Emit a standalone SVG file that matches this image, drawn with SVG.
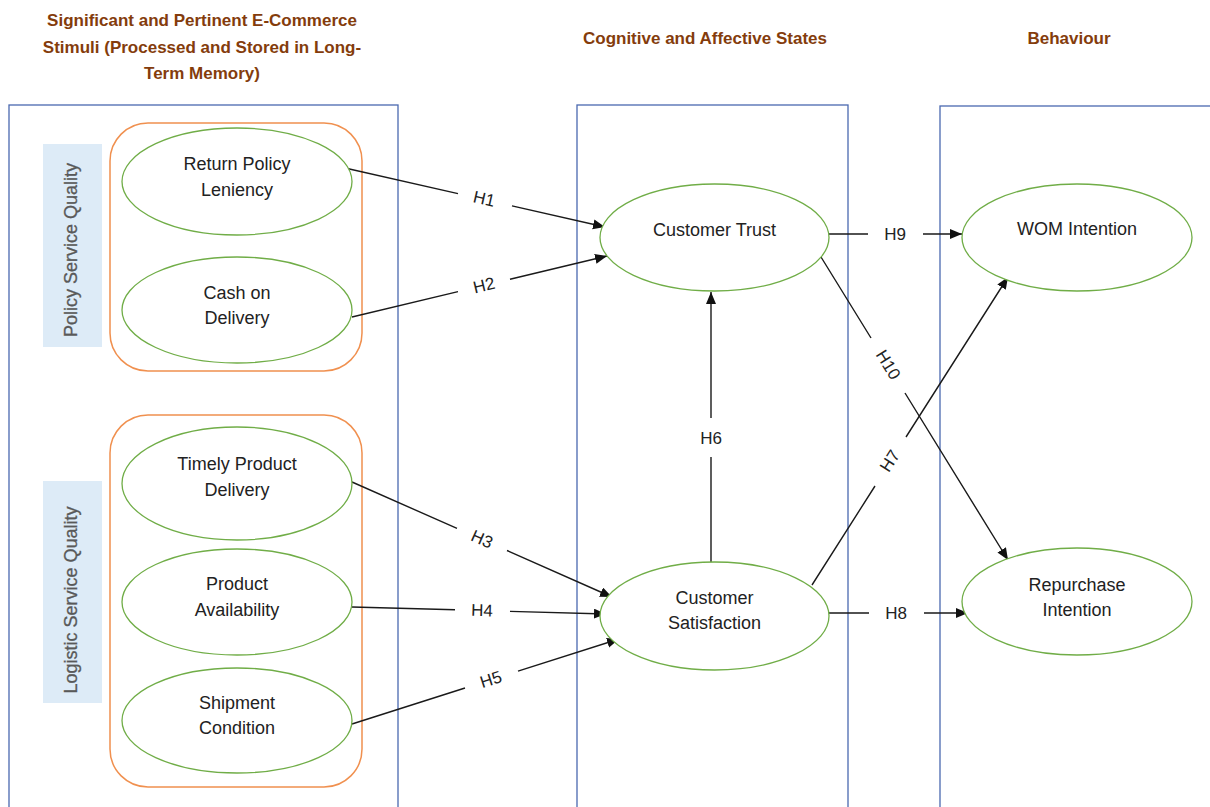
<svg xmlns="http://www.w3.org/2000/svg" width="1210" height="807" viewBox="0 0 1210 807">
<style>
.hdr{font-family:"Liberation Sans",Arial,sans-serif;font-size:17px;font-weight:bold;fill:#843C0C;text-anchor:middle}
.box{fill:none;stroke:#4A69B0;stroke-width:1.3}
.grp{fill:none;stroke:#F0904F;stroke-width:1.5}
.lbg{fill:#DDEBF7;stroke:none}
.ltx{font-family:"Liberation Sans",Arial,sans-serif;font-size:18px;fill:#595959;text-anchor:middle;dominant-baseline:central;stroke:#595959;stroke-width:0.3}
.ell{fill:#fff;stroke:#70AD47;stroke-width:1.3}
.ntx{font-family:"Liberation Sans",Arial,sans-serif;font-size:18px;fill:#222;text-anchor:middle}
.con{fill:none;stroke:#1a1a1a;stroke-width:1.4}
.htx{font-family:"Liberation Sans",Arial,sans-serif;font-size:17px;fill:#222;text-anchor:middle;dominant-baseline:central}
</style>
<defs>
<marker id="arr" markerUnits="userSpaceOnUse" markerWidth="13" markerHeight="11" refX="12" refY="5" orient="auto">
<path d="M0,0 L12,5 L0,10 z" fill="#111"/>
</marker>
</defs>
<rect width="1210" height="807" fill="#fff"/>

<g id="headers">
<text class="hdr" x="202" y="26">Significant and Pertinent E-Commerce</text>
<text class="hdr" x="202" y="52.5">Stimuli (Processed and Stored in Long-</text>
<text class="hdr" x="202" y="79">Term Memory)</text>
<text class="hdr" x="705" y="44">Cognitive and Affective States</text>
<text class="hdr" x="1069" y="44">Behaviour</text>
</g>

<g id="columns">
<rect class="box" x="9" y="105" width="389" height="720"/>
<rect class="box" x="577" y="105" width="271" height="720"/>
<rect class="box" x="940" y="106" width="300" height="720"/>
</g>

<g id="policy-group">
<rect class="grp" x="110" y="123" width="252" height="248" rx="38"/>
<rect class="lbg" x="43" y="144" width="59" height="203"/>
<text class="ltx" transform="rotate(-90 71 250)" x="71" y="250">Policy Service Quality</text>
</g>

<g id="logistic-group">
<rect class="grp" x="110" y="415" width="252" height="372" rx="38"/>
<rect class="lbg" x="43" y="481" width="59" height="222"/>
<text class="ltx" transform="rotate(-90 71 600)" x="71" y="600">Logistic Service Quality</text>
</g>

<g id="connectors">
<path class="con" d="M345,168 L458,193.6 M512,205.9 L605,227" marker-end="url(#arr)"/>
<text class="htx" transform="rotate(12.8 484 199)" x="484" y="199">H1</text>
<path class="con" d="M352,317 L458,291.6 M510,279.2 L607,256" marker-end="url(#arr)"/>
<text class="htx" transform="rotate(-13.5 484 285.5)" x="484" y="285.5">H2</text>
<path class="con" d="M352,482 L457,528.4 M507,550.5 L612,597" marker-end="url(#arr)"/>
<text class="htx" transform="rotate(23.9 482 539.5)" x="482" y="539.5">H3</text>
<path class="con" d="M352,607 L455,609.8 M510,611.4 L606,614" marker-end="url(#arr)"/>
<text class="htx" transform="rotate(1.6 482 610.6)" x="482" y="610.6">H4</text>
<path class="con" d="M352,724 L465,688 M518,671.2 L619,639" marker-end="url(#arr)"/>
<text class="htx" transform="rotate(-17.7 491 679.6)" x="491" y="679.6">H5</text>
<path class="con" d="M711,562 L711,457 M711,418 L711,292" marker-end="url(#arr)"/>
<text class="htx" x="711" y="438">H6</text>
<path class="con" d="M812,585 L875,486 M906,437 L1008,277" marker-end="url(#arr)"/>
<text class="htx" transform="rotate(-57.5 890 461)" x="890" y="461">H7</text>
<path class="con" d="M829,613 L869,613 M924,613 L968,613" marker-end="url(#arr)"/>
<text class="htx" x="896" y="613">H8</text>
<path class="con" d="M829,234 L868,234 M923,234 L962,234" marker-end="url(#arr)"/>
<text class="htx" x="895" y="234">H9</text>
<path class="con" d="M821,257 L871,338 M905,393 L1008,560" marker-end="url(#arr)"/>
<text class="htx" transform="rotate(58.3 888 365)" x="888" y="365">H10</text>
</g>

<g id="return-policy">
<ellipse class="ell" cx="237" cy="181.5" rx="115" ry="53.5"/>
<text class="ntx" x="237" y="170">Return Policy</text>
<text class="ntx" x="237" y="196">Leniency</text>
</g>
<g id="cash-on-delivery">
<ellipse class="ell" cx="237" cy="310" rx="115" ry="53"/>
<text class="ntx" x="237" y="299">Cash on</text>
<text class="ntx" x="237" y="324">Delivery</text>
</g>
<g id="timely-delivery">
<ellipse class="ell" cx="237" cy="483.5" rx="115" ry="56.5"/>
<text class="ntx" x="237" y="470">Timely Product</text>
<text class="ntx" x="237" y="496">Delivery</text>
</g>
<g id="product-availability">
<ellipse class="ell" cx="237" cy="602" rx="115" ry="53"/>
<text class="ntx" x="237" y="590">Product</text>
<text class="ntx" x="237" y="616">Availability</text>
</g>
<g id="shipment-condition">
<ellipse class="ell" cx="237" cy="720.5" rx="115" ry="52.5"/>
<text class="ntx" x="237" y="709">Shipment</text>
<text class="ntx" x="237" y="734">Condition</text>
</g>
<g id="customer-trust">
<ellipse class="ell" cx="714.5" cy="237.5" rx="114.5" ry="53.5"/>
<text class="ntx" x="714.5" y="236">Customer Trust</text>
</g>
<g id="customer-satisfaction">
<ellipse class="ell" cx="714.5" cy="616" rx="114.5" ry="54"/>
<text class="ntx" x="714.5" y="604">Customer</text>
<text class="ntx" x="714.5" y="629">Satisfaction</text>
</g>
<g id="wom-intention">
<ellipse class="ell" cx="1077" cy="237.5" rx="115" ry="53.5"/>
<text class="ntx" x="1077" y="235">WOM Intention</text>
</g>
<g id="repurchase-intention">
<ellipse class="ell" cx="1077" cy="601.5" rx="115" ry="53.5"/>
<text class="ntx" x="1077" y="591">Repurchase</text>
<text class="ntx" x="1077" y="616">Intention</text>
</g>
</svg>
